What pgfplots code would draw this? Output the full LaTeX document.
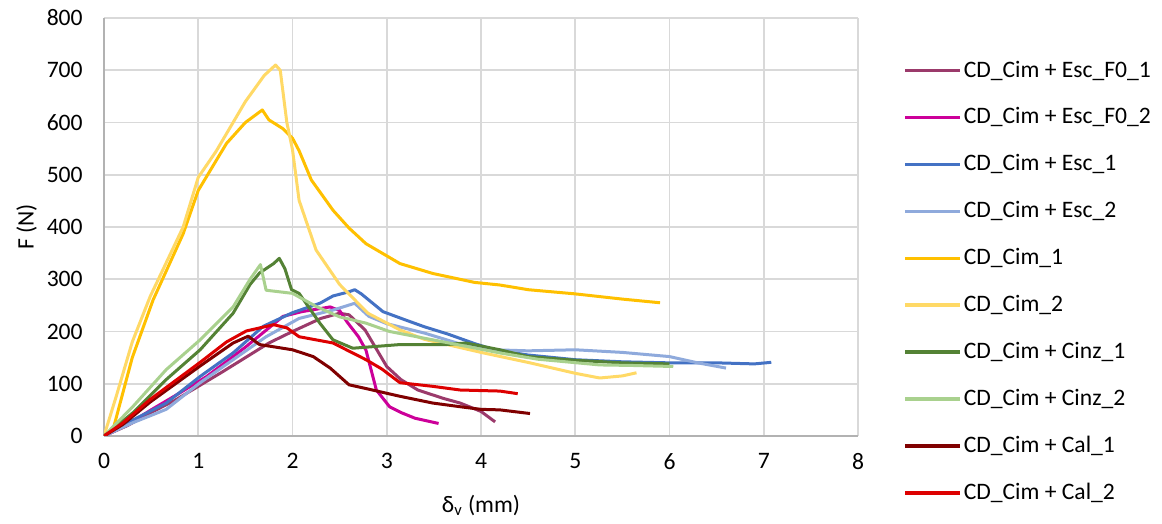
\documentclass[border=0pt]{standalone}
\usepackage{fontspec}
\setmainfont{Carlito}
\usepackage{pgfplots}
\pgfplotsset{compat=1.18}

\definecolor{cF1}{HTML}{9B3A6B}
\definecolor{cF2}{HTML}{CC0099}
\definecolor{cE1}{HTML}{4472C4}
\definecolor{cE2}{HTML}{8FAADC}
\definecolor{cC1}{HTML}{FFC000}
\definecolor{cC2}{HTML}{FFD966}
\definecolor{cZ1}{HTML}{548235}
\definecolor{cZ2}{HTML}{A9D18E}
\definecolor{cL1}{HTML}{800000}
\definecolor{cL2}{HTML}{DD0000}
\definecolor{gridc}{HTML}{D9D9D9}

\begin{document}
\begin{tikzpicture}
\useasboundingbox (-52pt,-44pt) rectangle (529pt,218pt);
\begin{axis}[
  scale only axis, width=377pt, height=209pt,
  xmin=0, xmax=8, ymin=0, ymax=800,
  xtick={0,1,...,8}, ytick={0,100,...,800},
  grid=major, major grid style={gridc, line width=0.8pt},
  axis lines=left, axis line style={-, draw=gray!60, line width=0.8pt},
  tick style={draw=none},
  font=\fontsize{11.8}{14}\selectfont,
  /pgf/number format/assume math mode=true,
  ticklabel style={font=\fontsize{11.8}{14}\selectfont},
  yticklabel style={xshift=-5pt},
  xticklabel style={yshift=-3pt},
  xlabel={δ\textsubscript{v} (mm)},
  ylabel={F (N)},
  xlabel style={at={(axis description cs:0.5,0)}, anchor=north, yshift=-26pt},
  ylabel style={at={(axis description cs:0,0.5)}, anchor=south, yshift=30pt},
  every axis plot/.append style={line width=1.5pt, line join=round},
  legend style={at={(1.052,0.913)}, anchor=north west, draw=none,
    font=\fontsize{11.8}{14}\selectfont, row sep=11.85pt,
    nodes={inner sep=1pt}},
  legend cell align=left,
  legend image code/.code={\draw[#1, line width=1.6pt] (0pt,0pt) -- (27.5pt,0pt);},
]
% CD_Cim + Esc_F0_1
\addplot[cF1] coordinates {(0,0)(0.25,20)(0.5,45)(0.75,68)(1.0,95)(1.25,122)(1.5,150)(1.75,178)(2.0,200)(2.3,225)(2.5,235)(2.6,232)(2.77,203)(3.0,133)(3.15,108)(3.33,88)(3.6,72)(3.78,63)(4.0,47)(4.15,27)};
\addlegendentry{CD\_Cim + Esc\_F0\_1}
% CD_Cim + Esc_F0_2
\addplot[cF2] coordinates {(0,0)(0.25,22)(0.5,50)(0.8,82)(1.09,114)(1.5,170)(1.9,229)(2.1,238)(2.4,247)(2.5,240)(2.58,218)(2.7,190)(2.78,164)(2.89,88)(3.03,56)(3.15,45)(3.3,34)(3.45,28)(3.55,24)};
\addlegendentry{CD\_Cim + Esc\_F0\_2}
% CD_Cim + Esc_1
\addplot[cE1] coordinates {(0,0)(0.3,30)(0.66,63)(1.02,114)(1.37,159)(1.69,210)(2.0,236)(2.29,254)(2.43,268)(2.6,276)(2.66,280)(2.73,272)(2.96,238)(3.2,222)(3.4,209)(3.65,195)(3.93,177)(4.14,165)(4.5,155)(5.0,146)(5.5,142)(6.0,140)(6.5,140)(6.9,138)(7.08,141)};
\addlegendentry{CD\_Cim + Esc\_1}
% CD_Cim + Esc_2
\addplot[cE2] coordinates {(0,0)(0.3,25)(0.66,51)(1.02,102)(1.37,146)(1.72,190)(2.07,225)(2.43,241)(2.66,254)(2.81,229)(3.0,215)(3.4,197)(3.8,175)(4.14,165)(4.5,163)(5.0,165)(5.5,160)(6.0,152)(6.3,140)(6.6,130)};
\addlegendentry{CD\_Cim + Esc\_2}
% CD_Cim_1
\addplot[cC1] coordinates {(0,0)(0.1,15)(0.3,150)(0.52,260)(0.84,387)(1.0,470)(1.3,560)(1.5,600)(1.68,624)(1.75,605)(1.9,588)(2.0,570)(2.07,546)(2.2,490)(2.43,432)(2.6,398)(2.78,368)(3.14,330)(3.49,311)(3.93,294)(4.2,289)(4.5,280)(5.0,272)(5.5,262)(5.9,255)};
\addlegendentry{CD\_Cim\_1}
% CD_Cim_2
\addplot[cC2] coordinates {(0,0)(0.13,76)(0.3,180)(0.49,267)(0.84,400)(1.0,495)(1.19,545)(1.5,640)(1.7,690)(1.82,710)(1.87,700)(1.94,600)(2.0,548)(2.07,451)(2.25,356)(2.5,290)(2.8,235)(3.14,203)(3.4,185)(4.0,160)(4.52,140)(5.0,120)(5.26,111)(5.5,115)(5.65,121)};
\addlegendentry{CD\_Cim\_2}
% CD_Cim + Cinz_1
\addplot[cZ1] coordinates {(0,0)(0.31,45)(0.66,108)(1.02,165)(1.37,235)(1.55,290)(1.65,312)(1.8,330)(1.86,340)(1.92,320)(1.99,280)(2.07,273)(2.29,216)(2.43,184)(2.64,168)(3.14,175)(3.63,175)(3.84,178)(4.2,165)(4.5,152)(5.0,145)(5.5,140)(6.0,138)};
\addlegendentry{CD\_Cim + Cinz\_1}
% CD_Cim + Cinz_2
\addplot[cZ2] coordinates {(0,0)(0.31,57)(0.66,127)(1.02,184)(1.37,247)(1.55,300)(1.66,328)(1.72,279)(2.0,273)(2.25,248)(2.5,228)(2.78,216)(3.03,200)(3.49,184)(4.2,159)(4.6,147)(5.26,136)(5.6,135)(6.04,133)};
\addlegendentry{CD\_Cim + Cinz\_2}
% CD_Cim + Cal_1
\addplot[cL1] coordinates {(0,0)(0.2,22)(0.49,65)(1.02,134)(1.37,178)(1.53,191)(1.65,175)(2.0,165)(2.22,152)(2.4,130)(2.6,98)(2.8,90)(3.14,76)(3.49,63)(3.78,56)(4.0,51)(4.2,50)(4.52,43)};
\addlegendentry{CD\_Cim + Cal\_1}
% CD_Cim + Cal_2
\addplot[cL2] coordinates {(0,0)(0.2,25)(0.49,70)(1.02,141)(1.3,180)(1.51,201)(1.8,213)(1.94,207)(2.07,190)(2.43,178)(2.78,146)(2.95,128)(3.14,102)(3.49,95)(3.78,88)(4.2,86)(4.39,81)};
\addlegendentry{CD\_Cim + Cal\_2}
\end{axis}
\end{tikzpicture}
\end{document}
